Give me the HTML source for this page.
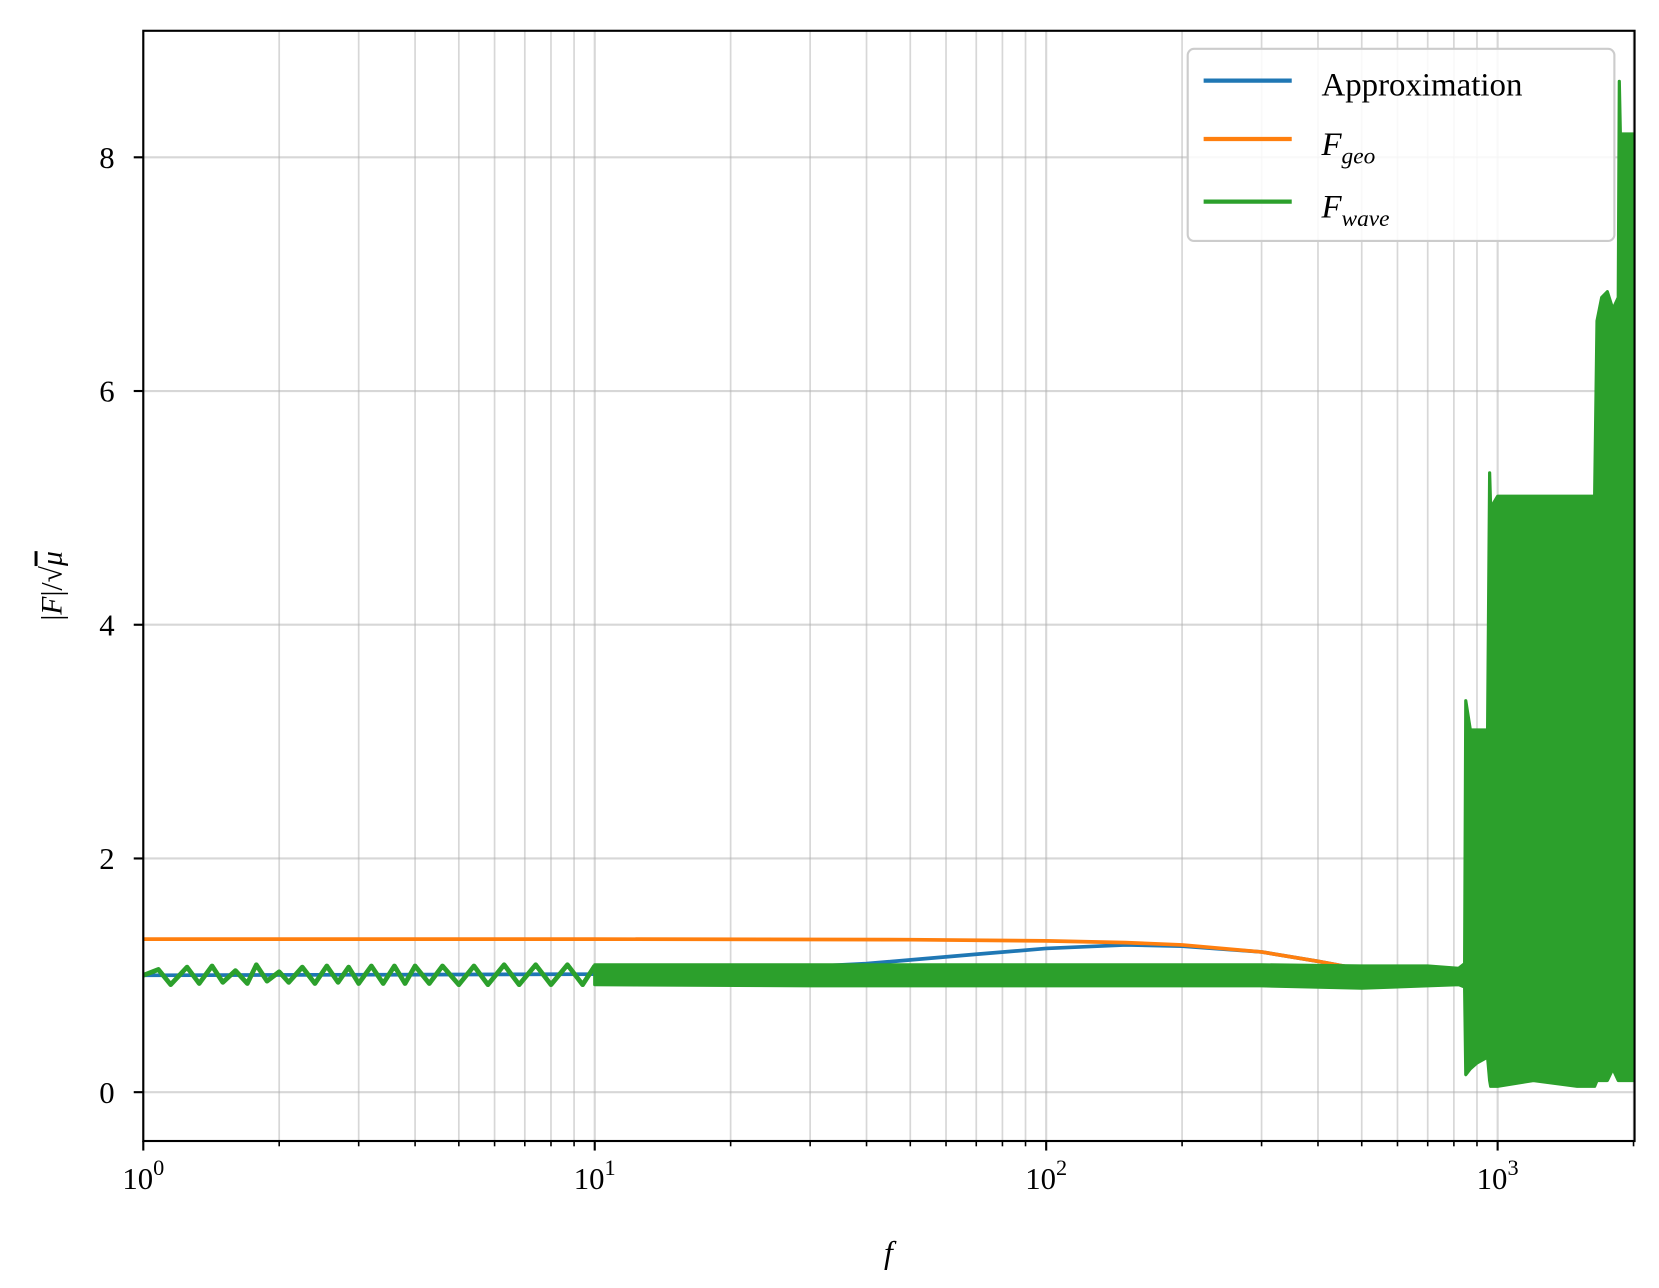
<!DOCTYPE html>
<html><head><meta charset="utf-8"><style>
body{margin:0;background:#fff;}
svg{display:block;font-family:"Liberation Serif",serif;}
</style></head><body>
<svg id="chart" width="1659" height="1288" viewBox="0 0 1659 1288">
<g transform="scale(1.0614)">
<g id="grid"></g>
<g id="series"></g>
<rect x="135" y="29" width="1405" height="1046" fill="none" stroke="#000" stroke-width="2"/>
<g id="axes"></g>
<text x="837" y="1190" font-size="30" font-style="italic" text-anchor="middle">f</text>
<text transform="translate(58,552) rotate(-90)" font-size="28" text-anchor="middle">|<tspan font-style="italic">F</tspan>|/√<tspan font-style="italic" text-decoration="overline">μ</tspan></text>
<g>
<rect x="1119" y="46" width="402" height="181" rx="6" fill="#fff" fill-opacity="0.85" stroke="#ccc" stroke-width="2"/>
<line x1="1134" y1="76" x2="1217" y2="76" stroke="#1f77b4" stroke-width="4"/>
<text x="1245" y="90" font-size="31">Approximation</text>
<line x1="1134" y1="131" x2="1217" y2="131" stroke="#ff7f0e" stroke-width="4"/>
<text x="1245" y="146" font-size="31" font-style="italic">F<tspan font-size="22" dy="8">geo</tspan></text>
<line x1="1134" y1="190" x2="1217" y2="190" stroke="#2ca02c" stroke-width="4"/>
<text x="1245" y="205" font-size="31" font-style="italic">F<tspan font-size="22" dy="8">wave</tspan></text>
</g>
</g>
</svg>
<script>
const xDecades=[0,1,2,3];
const yTicks=[0,2,4,6,8];
const geoF=[1,10,50,100,150,200,300,400,500,600];
const geoV=[1.31,1.31,1.305,1.295,1.28,1.26,1.2,1.12,1.05,1.0];
const apxF=[1,10,20,40,70,100,150,200,300,400,500,600];
const apxV=[1.0,1.01,1.04,1.1,1.18,1.23,1.26,1.25,1.2,1.12,1.05,1.0];
const wLowF=[1,1.08,1.15,1.25,1.33,1.42,1.5,1.6,1.7,1.78,1.88,2.0,2.1,2.25,2.4,2.55,2.7,2.85,3.0,3.2,3.4,3.6,3.8,4.0,4.3,4.6,5.0,5.4,5.8,6.3,6.8,7.4,8.0,8.7,9.4,10];
const wLowV=[1.0,1.05,0.92,1.07,0.93,1.08,0.94,1.04,0.93,1.09,0.95,1.03,0.94,1.07,0.93,1.08,0.94,1.07,0.93,1.08,0.93,1.08,0.93,1.08,0.93,1.08,0.92,1.08,0.92,1.09,0.92,1.09,0.92,1.09,0.92,1.08];
const bandF=[10,30,100,300,500,700,820,845,850,870,900,950,960,965,1000,1200,1500,1640,1660,1700,1750,1800,1850,1860,1870,1900,2000];
const bandLo=[0.92,0.91,0.91,0.91,0.89,0.91,0.92,0.9,0.15,0.2,0.25,0.3,0.1,0.05,0.05,0.1,0.05,0.05,0.1,0.1,0.1,0.2,0.1,0.1,0.1,0.1,0.1];
const bandHi=[1.09,1.09,1.09,1.09,1.08,1.08,1.06,1.1,3.35,3.1,3.1,3.1,5.3,5.0,5.1,5.1,5.1,5.1,6.6,6.8,6.85,6.7,6.8,8.65,8.2,8.2,8.2];
const X0=135,X1=1540,Y0=1029,YU=110.1,PD=(1411-135)/3;
const sx=f=>X0+Math.log10(f)*PD, sy=v=>Y0-v*YU;
const NS='http://www.w3.org/2000/svg';
function mk(t,a,p){const e=document.createElementNS(NS,t);for(const k in a)e.setAttribute(k,a[k]);p.appendChild(e);return e;}
const grid=document.getElementById('grid'),axes=document.getElementById('axes'),ser=document.getElementById('series');
xDecades.forEach(d=>{
 for(let m=1;m<10;m++){const f=m*Math.pow(10,d);if(f>2000)break;const x=sx(f);
  const g=mk('line',{x1:x,y1:29,x2:x,y2:1075,stroke:'#b0b0b0','stroke-opacity':0.5,'stroke-width':m==1?2:1.6},grid);
  
  const t=mk('line',{x1:x,y1:1075,x2:x,y2:1075+(m==1?9:5),stroke:'#000','stroke-width':m==1?2:1.5},axes);
  }
 const lb=mk('text',{x:sx(Math.pow(10,d)),y:1120,'font-size':29,'text-anchor':'middle'},axes);
 
 lb.innerHTML='10<tspan font-size="21" dy="-13">'+d+'</tspan>';
});
yTicks.forEach(v=>{const y=sy(v);
 const g=mk('line',{x1:135,y1:y,x2:1540,y2:y,stroke:'#b0b0b0','stroke-opacity':0.5,'stroke-width':2},grid);
 
 const t=mk('line',{x1:126,y1:y,x2:135,y2:y,stroke:'#000','stroke-width':2},axes);
 
 const l=mk('text',{x:108,y:y+10,'font-size':29,'text-anchor':'end'},axes);
 l.textContent=v;});
function line(F,V,c,w,name){const p=mk('polyline',{points:F.map((f,i)=>sx(f)+','+sy(V[i])).join(' '),fill:'none',stroke:c,'stroke-width':w,'stroke-linejoin':'round'},ser);
 }
line(apxF,apxV,'#1f77b4',3.5,'approximation-line');
line(geoF,geoV,'#ff7f0e',3.5,'fgeo-line');
line(wLowF,wLowV,'#2ca02c',4.5,'fwave-line-low');
const pts=bandF.map((f,i)=>sx(f)+','+sy(bandHi[i])).concat(bandF.slice().reverse().map((f,i)=>sx(f)+','+sy(bandLo[bandF.length-1-i])));
const band=mk('polygon',{points:pts.join(' '),fill:'#2ca02c',stroke:'#2ca02c','stroke-width':3,'stroke-linejoin':'round'},ser);


</script>
</body></html>
